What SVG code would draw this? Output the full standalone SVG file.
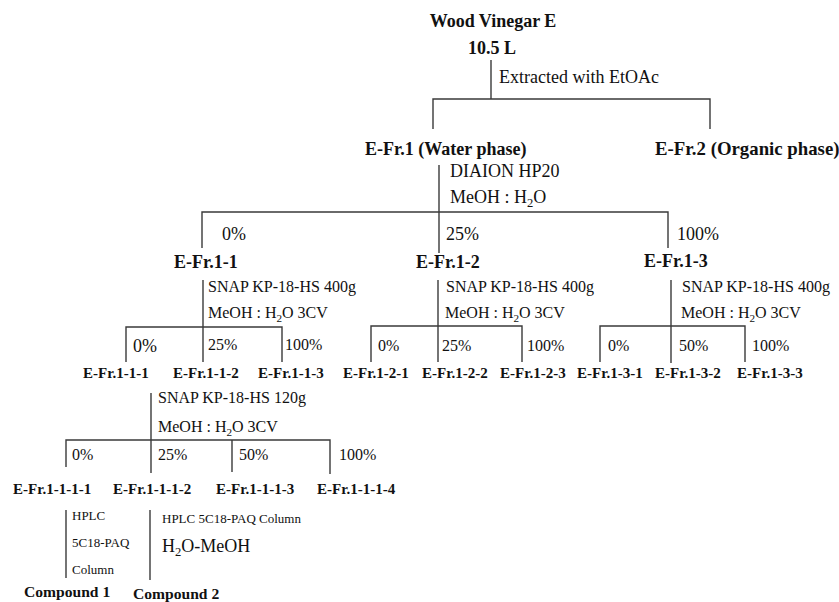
<svg xmlns="http://www.w3.org/2000/svg" width="839" height="602" viewBox="0 0 839 602">
  <style>
    text { font-family: "Liberation Serif", "Times New Roman", serif; fill: #111; }
    .node { font-weight: bold; font-size: 18px; }
    .frac { font-weight: bold; font-size: 15px; }
    .cpd { font-weight: bold; font-size: 15.6px; }
    .cond { font-size: 16px; }
    .cond18 { font-size: 18px; }
    .small { font-size: 13px; }
    .sub { font-size: 0.7em; }
    #connectors line, #connectors polyline { stroke: #3a3a3a; stroke-width: 1.4; fill: none; }
  </style>

  <!-- connectors -->
  <g id="connectors">
    <!-- wood vinegar split -->
    <line x1="491" y1="60" x2="491" y2="99"/>
    <polyline points="433,129 433,99 710,99 710,129"/>
    <!-- E-Fr.1 on DIAION HP20 -->
    <line x1="439" y1="165" x2="439" y2="253"/>
    <polyline points="202,248 202,212 668,212 668,248"/>
    <!-- E-Fr.1-1 -->
    <line x1="203" y1="280" x2="203" y2="362"/>
    <polyline points="126,362 126,327 282,327 282,362"/>
    <!-- E-Fr.1-2 -->
    <line x1="438" y1="280" x2="438" y2="362"/>
    <polyline points="371,362 371,326 522,326 522,362"/>
    <!-- E-Fr.1-3 -->
    <line x1="671" y1="280" x2="671" y2="363"/>
    <polyline points="600,362 600,326 745,326 745,362"/>
    <!-- E-Fr.1-1-2 -->
    <line x1="151" y1="393" x2="151" y2="473"/>
    <polyline points="66,467 66,440 330,440 330,474"/>
    <line x1="232" y1="440" x2="232" y2="472"/>
    <!-- HPLC steps -->
    <line x1="66" y1="510" x2="66" y2="578"/>
    <line x1="150" y1="510" x2="150" y2="580"/>
  </g>

  <!-- root -->
  <g id="wood-vinegar">
    <text class="node" x="493" y="27" text-anchor="middle">Wood Vinegar E</text>
    <text class="node" x="492" y="54" text-anchor="middle">10.5 L</text>
    <text class="cond18" x="499" y="83">Extracted with EtOAc</text>
  </g>

  <g id="e-fr1">
    <text class="node" x="365" y="155">E-Fr.1 (Water phase)</text>
    <text class="cond18" x="450" y="177">DIAION HP20</text>
    <text class="cond18" x="450" y="203">MeOH : H<tspan class="sub" dy="4">2</tspan><tspan dy="-4">O</tspan></text>
    <text class="cond18" x="222" y="240">0%</text>
    <text class="cond18" x="446" y="240">25%</text>
    <text class="cond18" x="677" y="240">100%</text>
  </g>

  <g id="e-fr2">
    <text class="node" x="655" y="155" style="font-size:18.8px">E-Fr.2 (Organic phase)</text>
  </g>

  <g id="e-fr1-1">
    <text class="node" x="174" y="268">E-Fr.1-1</text>
    <text class="cond" x="208" y="292">SNAP KP-18-HS 400g</text>
    <text class="cond" x="208" y="318">MeOH : H<tspan class="sub" dy="4">2</tspan><tspan dy="-4">O 3CV</tspan></text>
    <text class="cond18" x="133" y="352">0%</text>
    <text class="cond" x="208" y="350">25%</text>
    <text class="cond" x="285" y="350">100%</text>
  </g>

  <g id="e-fr1-2">
    <text class="node" x="416" y="268">E-Fr.1-2</text>
    <text class="cond" x="446" y="292">SNAP KP-18-HS 400g</text>
    <text class="cond" x="445" y="318">MeOH : H<tspan class="sub" dy="4">2</tspan><tspan dy="-4">O 3CV</tspan></text>
    <text class="cond" x="378" y="351">0%</text>
    <text class="cond" x="442" y="351">25%</text>
    <text class="cond" x="527" y="351">100%</text>
  </g>

  <g id="e-fr1-3">
    <text class="node" x="644" y="267">E-Fr.1-3</text>
    <text class="cond" x="682" y="292">SNAP KP-18-HS 400g</text>
    <text class="cond" x="681" y="318">MeOH : H<tspan class="sub" dy="4">2</tspan><tspan dy="-4">O 3CV</tspan></text>
    <text class="cond" x="608" y="351">0%</text>
    <text class="cond" x="679" y="351">50%</text>
    <text class="cond" x="752" y="351">100%</text>
  </g>

  <g id="e-fr1-1-1"><text class="frac" x="83" y="378">E-Fr.1-1-1</text></g>
  <g id="e-fr1-1-2">
    <text class="frac" x="173" y="378">E-Fr.1-1-2</text>
    <text class="cond" x="158" y="403">SNAP KP-18-HS 120g</text>
    <text class="cond" x="158" y="432">MeOH : H<tspan class="sub" dy="4">2</tspan><tspan dy="-4">O 3CV</tspan></text>
    <text class="cond" x="72" y="460">0%</text>
    <text class="cond" x="158" y="460">25%</text>
    <text class="cond" x="239" y="460">50%</text>
    <text class="cond" x="339" y="460">100%</text>
  </g>
  <g id="e-fr1-1-3"><text class="frac" x="258" y="378">E-Fr.1-1-3</text></g>
  <g id="e-fr1-2-1"><text class="frac" x="343" y="378">E-Fr.1-2-1</text></g>
  <g id="e-fr1-2-2"><text class="frac" x="422" y="378">E-Fr.1-2-2</text></g>
  <g id="e-fr1-2-3"><text class="frac" x="500" y="378">E-Fr.1-2-3</text></g>
  <g id="e-fr1-3-1"><text class="frac" x="577" y="378">E-Fr.1-3-1</text></g>
  <g id="e-fr1-3-2"><text class="frac" x="655" y="378">E-Fr.1-3-2</text></g>
  <g id="e-fr1-3-3"><text class="frac" x="737" y="378">E-Fr.1-3-3</text></g>

  <g id="e-fr1-1-1-1">
    <text class="frac" x="13" y="494">E-Fr.1-1-1-1</text>
    <text class="small" x="72" y="520">HPLC</text>
    <text class="small" x="72" y="547">5C18-PAQ</text>
    <text class="small" x="72" y="574">Column</text>
  </g>
  <g id="e-fr1-1-1-2">
    <text class="frac" x="113" y="494">E-Fr.1-1-1-2</text>
    <text class="small" x="162" y="523">HPLC 5C18-PAQ Column</text>
    <text class="cond18" x="162" y="552">H<tspan class="sub" dy="4">2</tspan><tspan dy="-4">O-MeOH</tspan></text>
  </g>
  <g id="e-fr1-1-1-3"><text class="frac" x="216" y="494">E-Fr.1-1-1-3</text></g>
  <g id="e-fr1-1-1-4"><text class="frac" x="317" y="494">E-Fr.1-1-1-4</text></g>

  <g id="compound-1"><text class="cpd" x="24" y="597">Compound 1</text></g>
  <g id="compound-2"><text class="cpd" x="133" y="599">Compound 2</text></g>
</svg>
